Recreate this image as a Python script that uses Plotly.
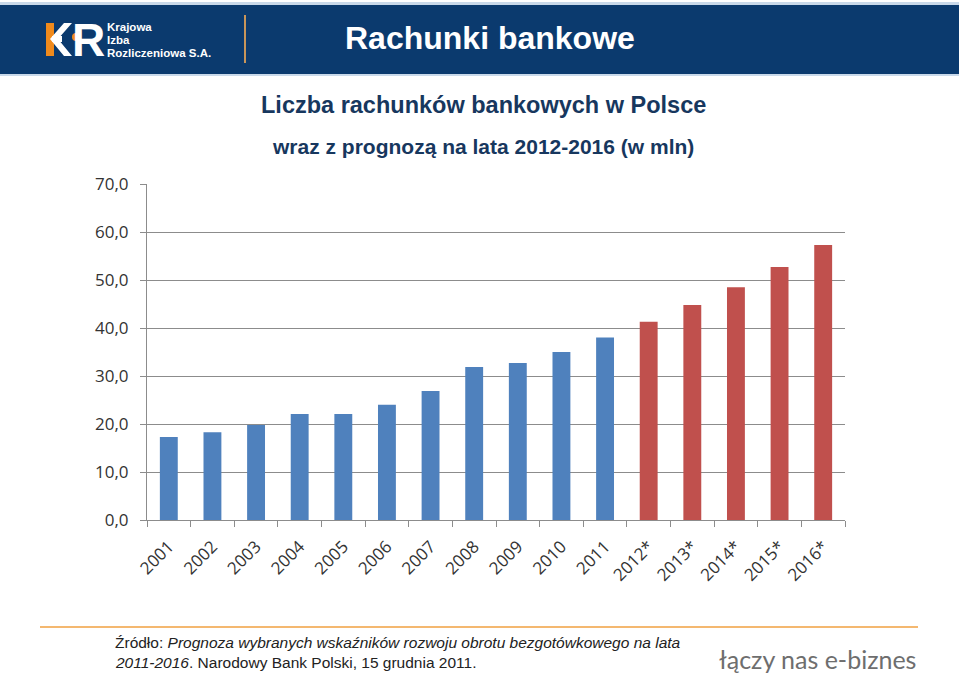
import plotly.graph_objects as go

years = ["2001", "2002", "2003", "2004", "2005", "2006", "2007", "2008", "2009", "2010", "2011",
         "2012*", "2013*", "2014*", "2015*", "2016*"]
values = [17.3, 18.3, 19.8, 22.1, 22.1, 24.0, 26.9, 31.9, 32.7, 35.0, 38.0,
          41.3, 44.8, 48.5, 52.7, 57.3]
forecast = [False] * 11 + [True] * 5
y_ticks = [0, 10, 20, 30, 40, 50, 60, 70]

BLUE = "#4F81BD"
RED = "#C0504D"
NAVY = "#0B3A6E"
TITLE_BLUE = "#17375E"

colors = [RED if f else BLUE for f in forecast]

fig = go.Figure()
fig.add_trace(go.Bar(x=years, y=values, marker=dict(color=colors, line=dict(width=0)),
                     showlegend=False, hoverinfo="x+y"))

W, H = 959, 676
L, R, T, B = 147, 845, 184, 520

fig.update_layout(
    width=W, height=H,
    margin=dict(l=L, r=W - R, t=T, b=H - B, pad=0),
    paper_bgcolor="white", plot_bgcolor="white",
    separators=", ",
    bargap=0.59,
    font=dict(family="Lato, Open Sans, sans-serif", color="#333333"),
)

fig.update_yaxes(range=[0, 70], tickvals=y_ticks, tickformat=".1f",
                 showgrid=True, gridcolor="#8C8C8C", gridwidth=1,
                 showline=True, linecolor="#8C8C8C", linewidth=1,
                 ticks="outside", ticklen=6, tickcolor="#8C8C8C",
                 ticklabelstandoff=8,
                 tickfont=dict(size=17, color="#333333", family="Open Sans, Lato, sans-serif"),
                 zeroline=False, fixedrange=True)
fig.update_xaxes(tickangle=-45, showline=True, linecolor="#8C8C8C", linewidth=1,
                 ticks="outside", ticklen=6, tickcolor="#8C8C8C", tickson="boundaries",
                 ticklabelstandoff=9,
                 tickfont=dict(size=17, color="#333333", family="Open Sans, Lato, sans-serif"),
                 showgrid=False, fixedrange=True)


def px_x(x):
    return (x - L) / (R - L)


def px_y(y):
    return (B - y) / (B - T)


def px_rect(x0, y0, x1, y1, color):
    return dict(type="rect", xref="paper", yref="paper",
                x0=px_x(x0), x1=px_x(x1), y0=px_y(y1), y1=px_y(y0),
                line=dict(width=0), fillcolor=color, layer="above")


def px_line(x0, y0, x1, y1, color, width):
    return dict(type="line", xref="paper", yref="paper",
                x0=px_x(x0), x1=px_x(x1), y0=px_y(y0), y1=px_y(y1),
                line=dict(color=color, width=width), layer="above")


def px_path(pts, color):
    path = "M " + " L ".join(f"{px_x(a)},{px_y(b)}" for a, b in pts) + " Z"
    return dict(type="path", xref="paper", yref="paper", path=path,
                fillcolor=color, line=dict(width=0), layer="above")


shapes = [
    px_rect(0, 2, W, 5, "#C9D9EA"),
    px_rect(0, 5, W, 74, NAVY),
    px_rect(0, 74, W, 76, "#C9D9EA"),
    # logo orange block
    px_rect(46, 23, 54, 56, "#F08A1C"),
    # divider
    px_line(245, 15, 245, 63, "#C8955A", 2),
    # footer rule
    px_line(40, 627, 918, 627, "#F0A040", 1.3),
    # white K chevron
    px_path([(50, 39), (64, 23), (72, 23), (58, 39), (72, 56), (64, 56)], "white"),
    px_path([(52, 36), (62, 36), (62, 42), (52, 42)], "white"),
]
shapes.append(dict(type="circle", xref="paper", yref="paper",
                   x0=px_x(72), x1=px_x(80), y0=px_y(41), y1=px_y(33),
                   fillcolor="#F08A1C", line=dict(width=0), layer="above"))

fig.update_layout(shapes=shapes)

ann = []


def text(x, y, s, size, color, family="Liberation Sans, Arial, sans-serif",
         xanchor="left", yanchor="middle", bold=False):
    ann.append(dict(x=px_x(x), y=px_y(y), xref="paper", yref="paper",
                    text=(f"<b>{s}</b>" if bold else s),
                    showarrow=False, xanchor=xanchor, yanchor=yanchor,
                    font=dict(size=size, color=color, family=family)))


text(70, 40, "R", 46, "white", family="Liberation Sans, Arial", xanchor="left", bold=True)
text(105, 27, "Krajowa", 11.5, "white", bold=True, family="Liberation Sans Narrow, Liberation Sans, Arial")
text(105, 40, "Izba", 11.5, "white", bold=True, family="Liberation Sans Narrow, Liberation Sans, Arial")
text(105, 53, "Rozliczeniowa S.A.", 11.5, "white", bold=True, family="Liberation Sans Narrow, Liberation Sans, Arial")
text(490, 38, "Rachunki bankowe", 32, "white", xanchor="center", bold=True)
text(483, 105, "Liczba rachunków bankowych w Polsce", 23.5, TITLE_BLUE, xanchor="center", bold=True)
text(483, 146, "wraz z prognozą na lata 2012-2016 (w mln)", 21, TITLE_BLUE, xanchor="center", bold=True)
text(113, 642, "Źródło: <i>Prognoza wybranych wskaźników rozwoju obrotu bezgotówkowego na lata</i>", 15.5, "#222222")
text(113, 662, "<i>2011-2016</i>. Narodowy Bank Polski, 15 grudnia 2011.", 15.5, "#222222")
text(918, 659, "łączy nas e-biznes", 25, "#6E6E6E", family="Lato, Noto Sans, sans-serif", xanchor="right")

fig.update_layout(annotations=ann)

fig.write_html("out.html")
